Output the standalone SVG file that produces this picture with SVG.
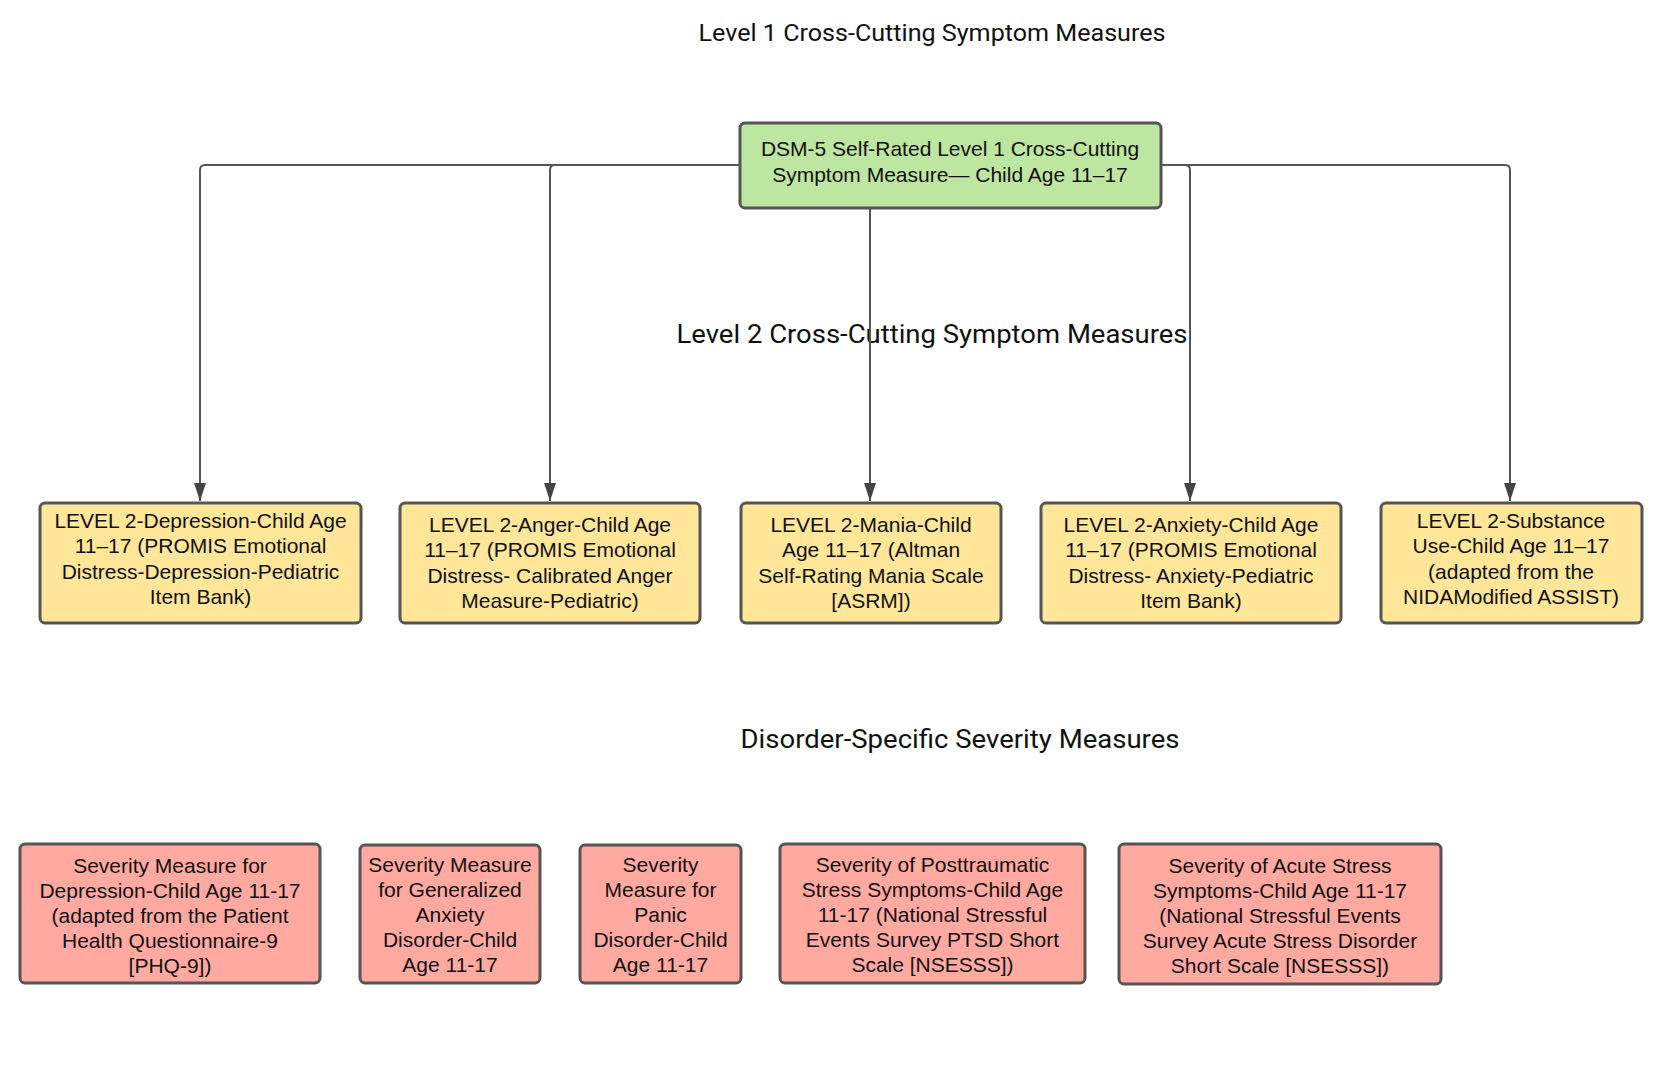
<svg xmlns="http://www.w3.org/2000/svg" width="1680" height="1090" viewBox="0 0 1680 1090">
  <style>
    .title { font-family: Roboto, "Liberation Sans", sans-serif; fill: #111; text-anchor: middle; }
    .t1 { font-size: 23px; }
    .t2 { font-size: 25px; }
    .box { stroke: #555555; stroke-width: 3; }
    .green { fill: #bde6a0; }
    .yellow { fill: #ffe699; }
    .red { fill: #ffa9a1; }
    .lbl { font-family: "Liberation Sans", Arial, sans-serif; font-size: 21px; fill: #111; text-anchor: middle; }
    .conn { fill: none; stroke: #555555; stroke-width: 2; }
  </style>
  <defs>
    <marker id="ah" viewBox="0 0 18 12" refX="18" refY="6" markerWidth="18" markerHeight="12" markerUnits="userSpaceOnUse" orient="auto">
      <path d="M0,0 L18,6 L0,12 z" fill="#444444"/>
    </marker>
  </defs>
  <rect width="1680" height="1090" fill="#ffffff"/>

  <g id="titles">
    <text class="title t1" x="932" y="41" textLength="467" lengthAdjust="spacingAndGlyphs">Level 1 Cross-Cutting Symptom Measures</text>
    <text class="title t2" x="932" y="343" textLength="511" lengthAdjust="spacingAndGlyphs">Level 2 Cross-Cutting Symptom Measures</text>
    <text class="title t2" x="960" y="748" textLength="439" lengthAdjust="spacingAndGlyphs">Disorder-Specific Severity Measures</text>
  </g>

  <g id="connectors">
    <path class="conn" d="M740,165 H205 Q200,165 200,170 V501" marker-end="url(#ah)"/>
    <path class="conn" d="M740,165 H555 Q550,165 550,170 V501" marker-end="url(#ah)"/>
    <path class="conn" d="M870,208 V501" marker-end="url(#ah)"/>
    <path class="conn" d="M1161,165 H1185 Q1190,165 1190,170 V501" marker-end="url(#ah)"/>
    <path class="conn" d="M1161,165 H1505 Q1510,165 1510,170 V501" marker-end="url(#ah)"/>
  </g>

  <g id="level1">
    <rect class="box green" x="740" y="123" width="421" height="85" rx="5"/>
    <text class="lbl" x="950" y="156">DSM-5 Self-Rated Level 1 Cross-Cutting</text>
    <text class="lbl" x="950" y="182">Symptom Measure— Child Age 11–17</text>
  </g>

  <g id="l2-depression">
    <rect class="box yellow" x="40" y="503" width="321" height="120" rx="5"/>
    <text class="lbl" x="200.5" y="528">LEVEL 2-Depression-Child Age</text>
    <text class="lbl" x="200.5" y="553">11–17 (PROMIS Emotional</text>
    <text class="lbl" x="200.5" y="579">Distress-Depression-Pediatric</text>
    <text class="lbl" x="200.5" y="604">Item Bank)</text>
  </g>

  <g id="l2-anger">
    <rect class="box yellow" x="400" y="503" width="300" height="120" rx="5"/>
    <text class="lbl" x="550" y="532">LEVEL 2-Anger-Child Age</text>
    <text class="lbl" x="550" y="557">11–17 (PROMIS Emotional</text>
    <text class="lbl" x="550" y="583">Distress- Calibrated Anger</text>
    <text class="lbl" x="550" y="608">Measure-Pediatric)</text>
  </g>

  <g id="l2-mania">
    <rect class="box yellow" x="741" y="503" width="260" height="120" rx="5"/>
    <text class="lbl" x="871" y="532">LEVEL 2-Mania-Child</text>
    <text class="lbl" x="871" y="557">Age 11–17 (Altman</text>
    <text class="lbl" x="871" y="583">Self-Rating Mania Scale</text>
    <text class="lbl" x="871" y="608">[ASRM])</text>
  </g>

  <g id="l2-anxiety">
    <rect class="box yellow" x="1041" y="503" width="300" height="120" rx="5"/>
    <text class="lbl" x="1191" y="532">LEVEL 2-Anxiety-Child Age</text>
    <text class="lbl" x="1191" y="557">11–17 (PROMIS Emotional</text>
    <text class="lbl" x="1191" y="583">Distress- Anxiety-Pediatric</text>
    <text class="lbl" x="1191" y="608">Item Bank)</text>
  </g>

  <g id="l2-substance">
    <rect class="box yellow" x="1381" y="503" width="261" height="120" rx="5"/>
    <text class="lbl" x="1511" y="528">LEVEL 2-Substance</text>
    <text class="lbl" x="1511" y="553">Use-Child Age 11–17</text>
    <text class="lbl" x="1511" y="579">(adapted from the</text>
    <text class="lbl" x="1511" y="604">NIDAModified ASSIST)</text>
  </g>

  <g id="sev-depression">
    <rect class="box red" x="20" y="844" width="300" height="139" rx="5"/>
    <text class="lbl" x="170" y="873">Severity Measure for</text>
    <text class="lbl" x="170" y="898">Depression-Child Age 11-17</text>
    <text class="lbl" x="170" y="923">(adapted from the Patient</text>
    <text class="lbl" x="170" y="948">Health Questionnaire-9</text>
    <text class="lbl" x="170" y="973">[PHQ-9])</text>
  </g>

  <g id="sev-gad">
    <rect class="box red" x="360" y="845" width="180" height="138" rx="5"/>
    <text class="lbl" x="450" y="872">Severity Measure</text>
    <text class="lbl" x="450" y="897">for Generalized</text>
    <text class="lbl" x="450" y="922">Anxiety</text>
    <text class="lbl" x="450" y="947">Disorder-Child</text>
    <text class="lbl" x="450" y="972">Age 11-17</text>
  </g>

  <g id="sev-panic">
    <rect class="box red" x="580" y="845" width="161" height="138" rx="5"/>
    <text class="lbl" x="660.5" y="872">Severity</text>
    <text class="lbl" x="660.5" y="897">Measure for</text>
    <text class="lbl" x="660.5" y="922">Panic</text>
    <text class="lbl" x="660.5" y="947">Disorder-Child</text>
    <text class="lbl" x="660.5" y="972">Age 11-17</text>
  </g>

  <g id="sev-ptsd">
    <rect class="box red" x="780" y="844" width="305" height="139" rx="5"/>
    <text class="lbl" x="932.5" y="872">Severity of Posttraumatic</text>
    <text class="lbl" x="932.5" y="897">Stress Symptoms-Child Age</text>
    <text class="lbl" x="932.5" y="922">11-17 (National Stressful</text>
    <text class="lbl" x="932.5" y="947">Events Survey PTSD Short</text>
    <text class="lbl" x="932.5" y="972">Scale [NSESSS])</text>
  </g>

  <g id="sev-acute">
    <rect class="box red" x="1119" y="844" width="322" height="140" rx="5"/>
    <text class="lbl" x="1280" y="873">Severity of Acute Stress</text>
    <text class="lbl" x="1280" y="898">Symptoms-Child Age 11-17</text>
    <text class="lbl" x="1280" y="923">(National Stressful Events</text>
    <text class="lbl" x="1280" y="948">Survey Acute Stress Disorder</text>
    <text class="lbl" x="1280" y="973">Short Scale [NSESSS])</text>
  </g>
</svg>
